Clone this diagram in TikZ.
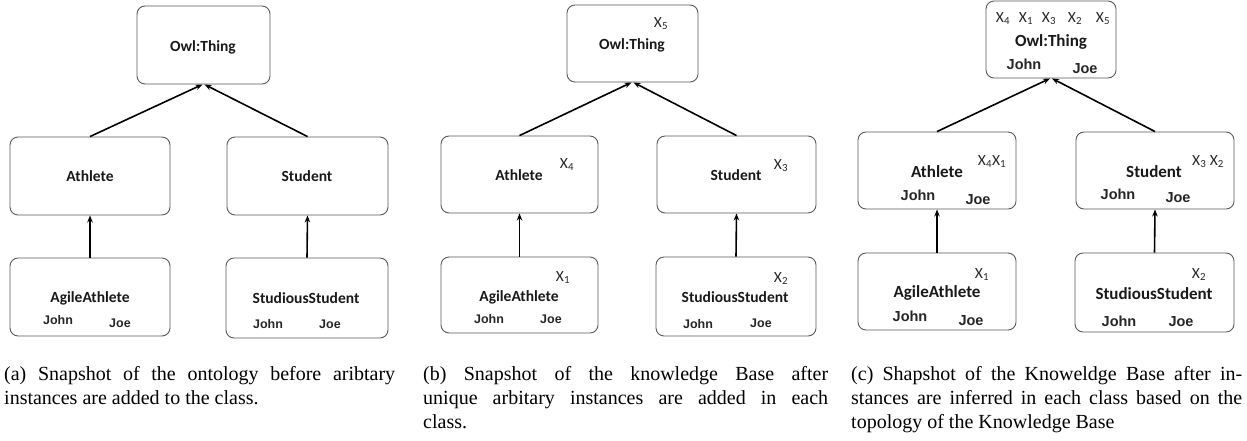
\documentclass[tikz,border=0pt]{standalone}
\usepackage{fontspec}
\setmainfont{Liberation Serif}
\newfontfamily\carl{Carlito}
\newfontfamily\lsans{Liberation Sans}
\usetikzlibrary{arrows.meta}
\begin{document}
\begin{tikzpicture}[x=1pt,y=-1pt,
  box/.style 2 args={draw=black!65, line width=0.9pt, rounded corners=8pt, inner sep=0pt,
    minimum width=#1, minimum height=#2},
  cls/.style={font=\carl\bfseries\fontsize{15.5}{18}\selectfont, inner sep=0pt, anchor=base, text=black!90},
  clsc/.style={cls, font=\carl\bfseries\fontsize{17}{20}\selectfont},
  nm/.style={font=\lsans\bfseries\fontsize{12.5}{15}\selectfont, inner sep=0pt, anchor=base, text=black!85},
  nmc/.style={nm, font=\lsans\bfseries\fontsize{14.5}{17}\selectfont},
  xl/.style={font=\carl\fontsize{15.5}{18}\selectfont, inner sep=0pt, anchor=base, text=black!85},
  arr/.style={-{Stealth[length=7pt,width=5.5pt]}, line width=1.6pt},
  cap/.style={font=\fontsize{20}{24}\selectfont, inner sep=0pt, anchor=north west, align=justify, text width=#1}
]
\useasboundingbox (0,0) rectangle (1247,440);

% ---------- panel (a)
\node[box={133}{78}] (a0) at (203.5,45) {};
\node[box={160}{78}] (a1) at (90,176) {};
\node[box={161}{78}] (a2) at (307.5,176) {};
\node[box={160}{78}] (a3) at (90,297) {};
\node[box={162}{80}] (a4) at (307,298) {};
\node[cls] (ta0) at (203,51) {Owl:Thing};
\node[cls] (ta1) at (90,181) {Athlete};
\node[cls] (ta2) at (307,181) {Student};
\node[cls] (ta3) at (90,302) {AgileAthlete};
\node[cls] (ta4) at (306,303) {StudiousStudent};
\node[nm] (ja3) at (58,324) {John};
\node[nm] (ea3) at (120,327) {Joe};
\node[nm] (ja4) at (268,328) {John};
\node[nm] (ea4) at (330,328) {Joe};
\draw[arr] (a1.north) -- ([xshift=-1pt]a0.south);
\draw[arr] (a2.north) -- ([xshift=1pt]a0.south);
\draw[arr] (a3.north) -- (a1.south);
\draw[arr] (a4.north) -- (a2.south);

% ---------- panel (b)
\node[box={131}{77}] (b0) at (632.5,43.5) {};
\node[box={157}{77}] (b1) at (519.5,174.5) {};
\node[box={159}{77}] (b2) at (736.5,174.5) {};
\node[box={157}{76}] (b3) at (519.5,295) {};
\node[box={160}{79}] (b4) at (736,296.5) {};
\node[xl] (xb0) at (661,27) {X\textsubscript{5}};
\node[cls] (tb0) at (632,49) {Owl:Thing};
\node[cls] (tb1) at (519,180) {Athlete};
\node[xl] (xb1) at (567,168) {X\textsubscript{4}};
\node[cls] (tb2) at (736,180) {Student};
\node[xl] (xb2) at (781,169) {X\textsubscript{3}};
\node[xl] (xb3) at (563,281) {X\textsubscript{1}};
\node[cls] (tb3) at (519,301) {AgileAthlete};
\node[nm] (jb3) at (489,323) {John};
\node[nm] (eb3) at (551,323) {Joe};
\node[xl] (xb4) at (781,282) {X\textsubscript{2}};
\node[cls] (tb4) at (735,302) {StudiousStudent};
\node[nm] (jb4) at (698,328) {John};
\node[nm] (eb4) at (761,327) {Joe};
\draw[arr] (b1.north) -- ([xshift=-1pt]b0.south);
\draw[arr] (b2.north) -- ([xshift=1pt]b0.south);
\draw[arr] (b3.north) -- (b1.south);
\draw[arr] (b4.north) -- (b2.south);

% ---------- panel (c)
\node[box={130}{77}] (c0) at (1051,39.5) {};
\node[box={158}{77}] (c1) at (937,170.5) {};
\node[box={158}{77}] (c2) at (1155,170.5) {};
\node[box={158}{77}] (c3) at (937,291.5) {};
\node[box={159}{79}] (c4) at (1154.5,292.5) {};
\node[xl] (xc01) at (1003,22) {X\textsubscript{4}};
\node[xl] (xc02) at (1026,22) {X\textsubscript{1}};
\node[xl] (xc03) at (1049,22) {X\textsubscript{3}};
\node[xl] (xc04) at (1075,22) {X\textsubscript{2}};
\node[xl] (xc05) at (1103,22) {X\textsubscript{5}};
\node[clsc] (tc0) at (1051,46) {Owl:Thing};
\node[nmc] (jc0) at (1024,69) {John};
\node[nmc] (ec0) at (1085,73) {Joe};
\node[clsc] (tc1) at (937,177) {Athlete};
\node[xl] (xc1) at (992,165) {X\textsubscript{4}X\textsubscript{1}};
\node[nmc] (jc1) at (918,200) {John};
\node[nmc] (ec1) at (978,204) {Joe};
\node[clsc] (tc2) at (1154,177) {Student};
\node[xl] (xc2) at (1208,165) {X\textsubscript{3} X\textsubscript{2}};
\node[nmc] (jc2) at (1118,199) {John};
\node[nmc] (ec2) at (1178,202) {Joe};
\node[xl] (xc3) at (982,278) {X\textsubscript{1}};
\node[clsc] (tc3) at (937,297) {AgileAthlete};
\node[nmc] (jc3) at (910,321) {John};
\node[nmc] (ec3) at (971,325) {Joe};
\node[xl] (xc4) at (1199,278) {X\textsubscript{2}};
\node[clsc] (tc4) at (1154,299) {StudiousStudent};
\node[nmc] (jc4) at (1119,326) {John};
\node[nmc] (ec4) at (1181,326) {Joe};
\draw[arr] (c1.north) -- ([xshift=-1pt]c0.south);
\draw[arr] (c2.north) -- ([xshift=1pt]c0.south);
\draw[arr] (c3.north) -- (c1.south);
\draw[arr] (c4.north) -- (c2.south);

% ---------- captions
\node[cap=391pt] (capa) at (4,363) {\strut(a) Snapshot of the ontology before aribtary\linebreak{}instances are added to the class.};
\node[cap=405pt] (capb) at (423,363) {\strut(b) Snapshot of the knowledge Base after\linebreak{}unique arbitary instances are added in each\linebreak{}class.};
\node[cap=391pt] (capc) at (851,363) {\strut(c) Shapshot of the Knoweldge Base after in-\linebreak{}stances are inferred in each class based on the\linebreak{}topology of the Knowledge Base};
\end{tikzpicture}
\end{document}
